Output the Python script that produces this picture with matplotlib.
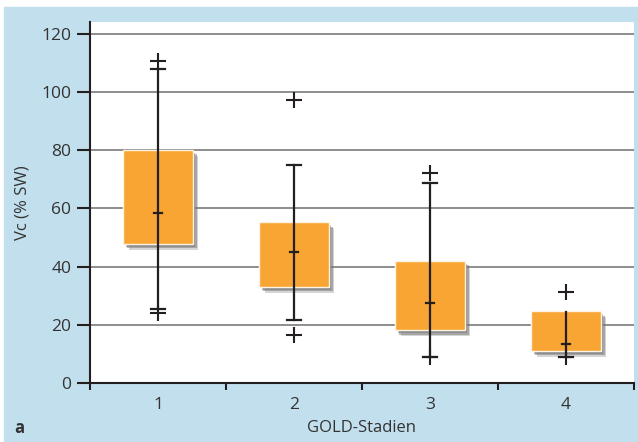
import matplotlib
matplotlib.use("Agg")
import matplotlib.pyplot as plt
import matplotlib.patheffects as pe
from matplotlib.patches import Rectangle

# GOLD-Stadien, Vc (% SW)
stages = [1, 2, 3, 4]
q1 = [47.8, 33.0, 18.1, 10.9]
q3 = [80.0, 55.2, 42.0, 24.6]
median = [58.5, 45.0, 27.6, 13.3]
whisk_lo = [25.5, 21.5, 9.0, 9.0]
whisk_hi = [108.0, 75.0, 68.8, 24.4]
has_cap_hi = [True, True, True, False]
outliers = [[110.7, 24.2], [97.3, 16.5], [72.3, 9.0], [31.4, 9.0]]

plt.rcParams['font.family'] = ['Open Sans', 'DejaVu Sans']

bg = '#c2dfed'
dark = '#231f20'

fig = plt.figure(figsize=(6.38, 4.42), dpi=100)
fig.patches.append(Rectangle((4 / 638, 0), 634 / 638, 435 / 442,
                             transform=fig.transFigure, color=bg, zorder=-10))
ax = fig.add_axes([90 / 638, 59 / 442, 544 / 638, 361 / 442])

ax.set_xlim(0.5, 4.5)
ax.set_ylim(0, 124.1)

for i, s in enumerate(stages):
    box = Rectangle((s - 0.255, q1[i]), 0.51, q3[i] - q1[i],
                    facecolor='#f9a533', edgecolor='#fff4e4', lw=1, zorder=3)
    # soft grey drop shadow
    box.set_path_effects([pe.SimplePatchShadow(offset=(4, -4), shadow_rgbFace='#888888', alpha=0.35),
                          pe.SimplePatchShadow(offset=(3, -3), shadow_rgbFace='#777777', alpha=0.5),
                          pe.SimplePatchShadow(offset=(2, -2), shadow_rgbFace='#777777', alpha=0.5),
                          pe.Normal()])
    ax.add_patch(box)
    ax.plot([s, s], [whisk_lo[i], whisk_hi[i]], color=dark, lw=1.6, zorder=4)
    ax.plot([s - 0.05, s + 0.05], [whisk_lo[i]] * 2, color=dark, lw=1.6, zorder=4)
    if has_cap_hi[i]:
        ax.plot([s - 0.05, s + 0.05], [whisk_hi[i]] * 2, color=dark, lw=1.6, zorder=4)
    ax.plot([s - 0.026, s + 0.026], [median[i]] * 2, color=dark, lw=1.6, zorder=4)
    ax.plot([s] * len(outliers[i]), outliers[i], '+', color=dark, ms=11.5, mew=1.5, zorder=4)

ax.set_yticks(range(0, 121, 20))
ax.yaxis.grid(True, color='#858585', lw=1.3)
ax.set_axisbelow(True)
ax.tick_params(axis='y', direction='out', length=9.5, width=1.5, color=dark,
               labelsize=12.5, labelcolor='#333333', pad=4)

ax.set_xticks([0.5, 1.5, 2.5, 3.5, 4.5])
ax.set_xticklabels([])
ax.set_xticks(stages, minor=True)
ax.set_xticklabels([str(s) for s in stages], minor=True)
ax.tick_params(axis='x', which='major', direction='out', length=5, width=1.5, color=dark)
ax.tick_params(axis='x', which='minor', length=0, pad=10, labelsize=12.5, labelcolor='#333333')

for side in ['top', 'right']:
    ax.spines[side].set_visible(False)
for side in ['left', 'bottom']:
    ax.spines[side].set_color(dark)
    ax.spines[side].set_linewidth(1.5)

ax.set_ylabel('Vc (% SW)', fontsize=12, color='#333333', labelpad=8)
fig.text(362 / 638, 1 - 428 / 442, 'GOLD-Stadien', ha='center', va='center', fontsize=12, color='#333333')
fig.text(14 / 638, 1 - 428 / 442, 'a', ha='left', va='center', fontsize=12, fontweight='bold', color='#333333')

fig.savefig('out.png', dpi=100)
